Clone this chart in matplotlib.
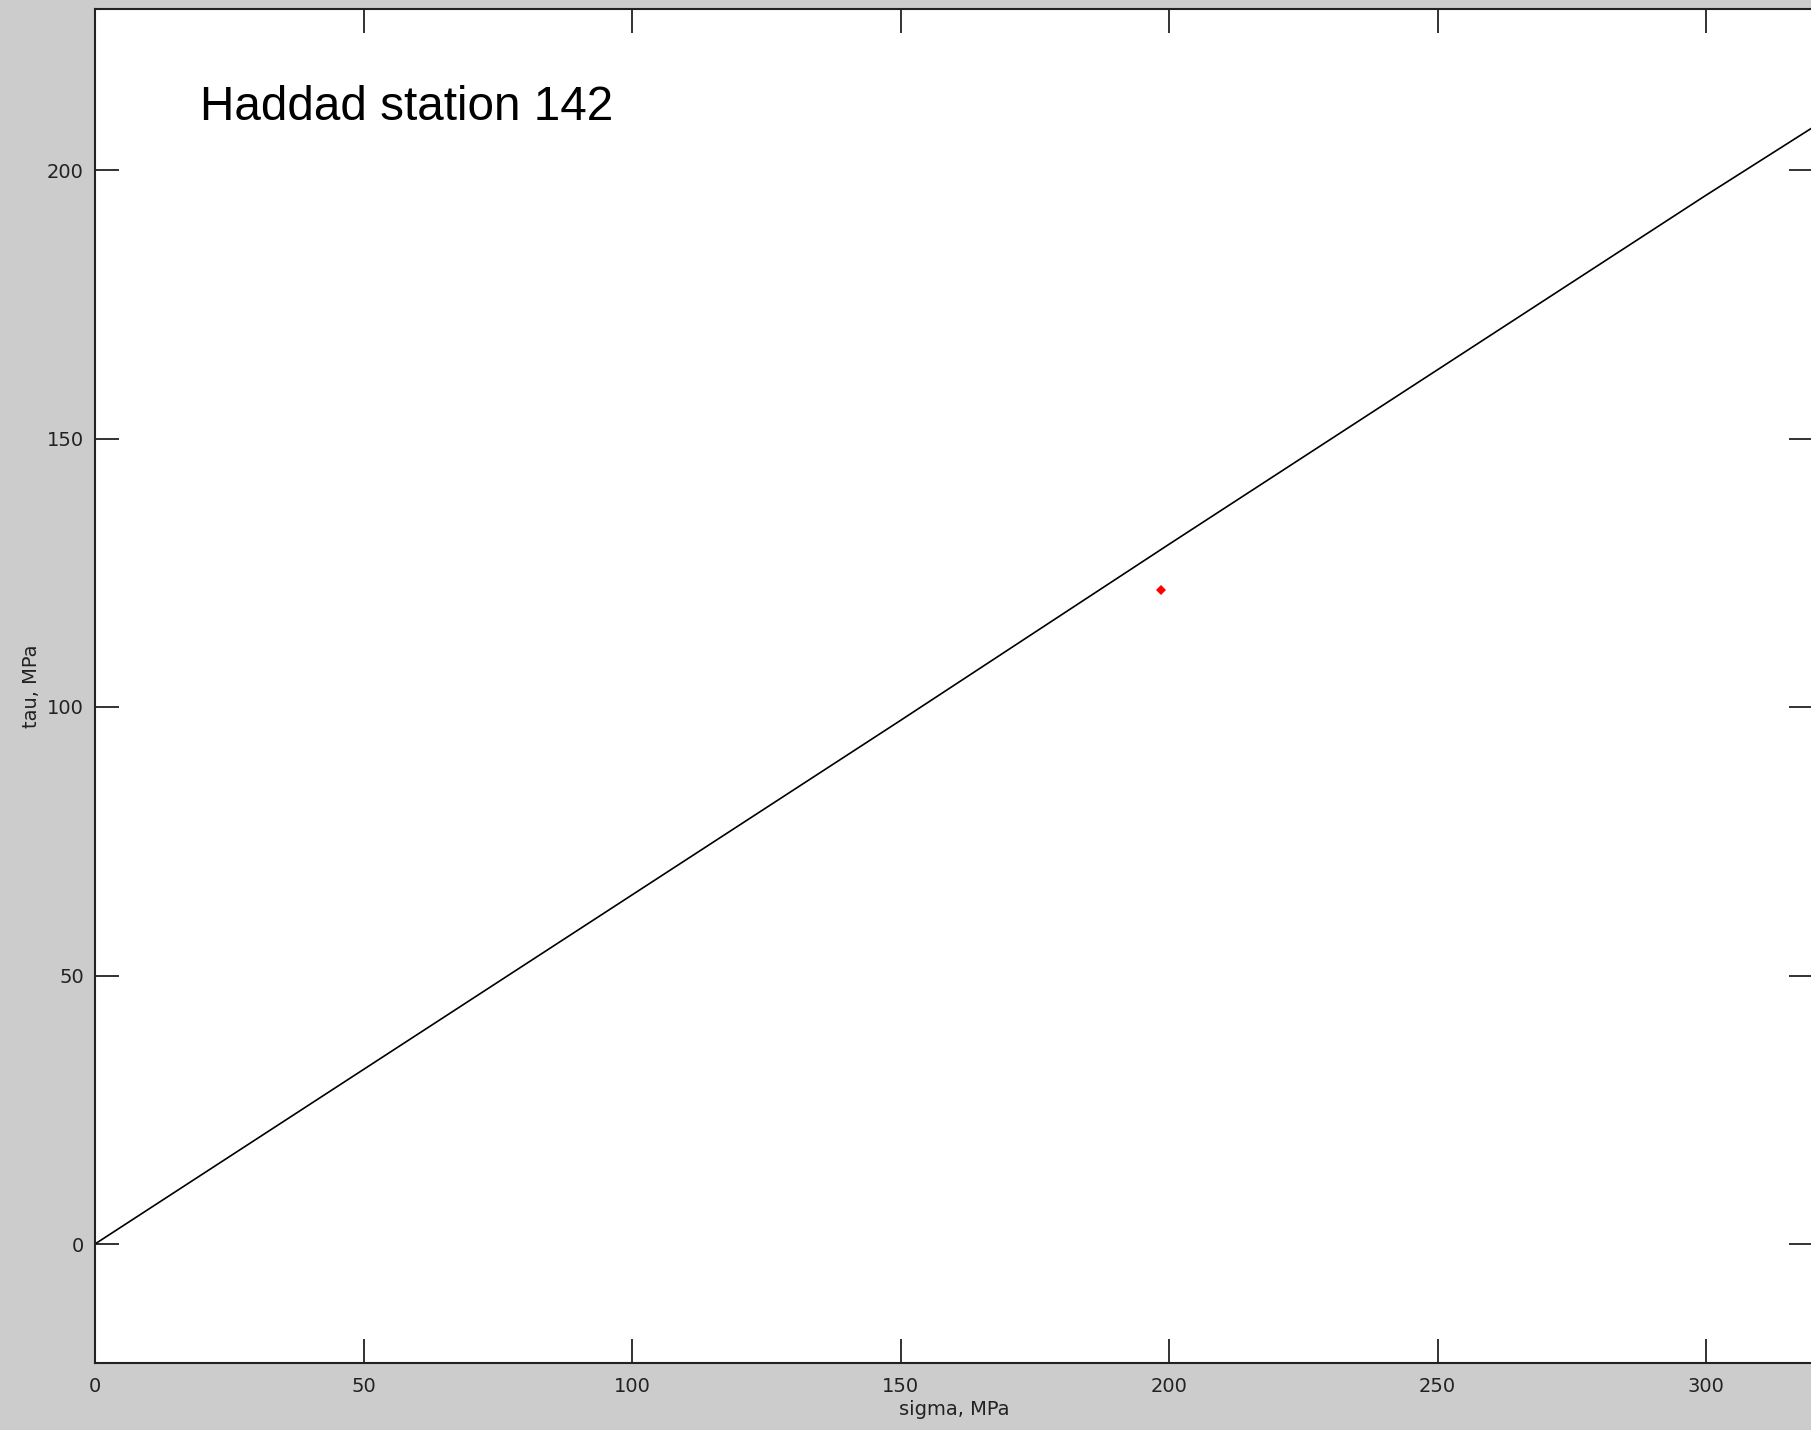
import matplotlib.pyplot as plt

# values
sigma_line = [0, 50, 100, 150, 200, 250, 300, 320]
tau_line = [0, 32.5, 65, 97.5, 130.3, 162.8, 195.3, 208]
sigma_point = [198.5]
tau_point = [121.8]
x_ticks = [0, 50, 100, 150, 200, 250, 300]
y_ticks = [0, 50, 100, 150, 200]
title_text = 'Haddad station 142'

W, H = 1811, 1430
fig = plt.figure(figsize=(W / 100, H / 100), dpi=100)
fig.patch.set_facecolor('#cccccc')

x0, y_top, y_bot = 95, 9, 1362.7
ppu = 5.37  # pixels per data unit
xmax = 320
ymin = -(y_bot - 1244) / ppu
ymax = (1244 - y_top) / ppu
ax = fig.add_axes([x0 / W, (H - y_bot) / H, xmax * ppu / W, (y_bot - y_top) / H])
ax.set_facecolor('white')

ax.plot(sigma_line, tau_line, color='black', lw=1.2)
ax.plot(sigma_point, tau_point, 'D', color='red', markersize=5, markeredgewidth=0)

ax.set_xlim(0, xmax)
ax.set_ylim(ymin, ymax)
ax.set_xticks(x_ticks)
ax.set_yticks(y_ticks)
ax.tick_params(direction='in', length=17, width=1.3, colors='#222222',
               labelsize=14, top=True, right=True, pad=8)
ax.tick_params(axis='x', pad=10)
for s in ax.spines.values():
    s.set_linewidth(1.5)
    s.set_color('#222222')

ax.set_xlabel('sigma, MPa', fontsize=14, color='#222222', labelpad=3)
ax.set_ylabel('tau, MPa', fontsize=14, color='#222222', labelpad=4)

ax.text(19.5, 209.3, title_text, fontsize=34.3, family='Liberation Sans',
        color='black', va='baseline', ha='left')

fig.savefig('out.png', dpi=100, facecolor=fig.get_facecolor())
